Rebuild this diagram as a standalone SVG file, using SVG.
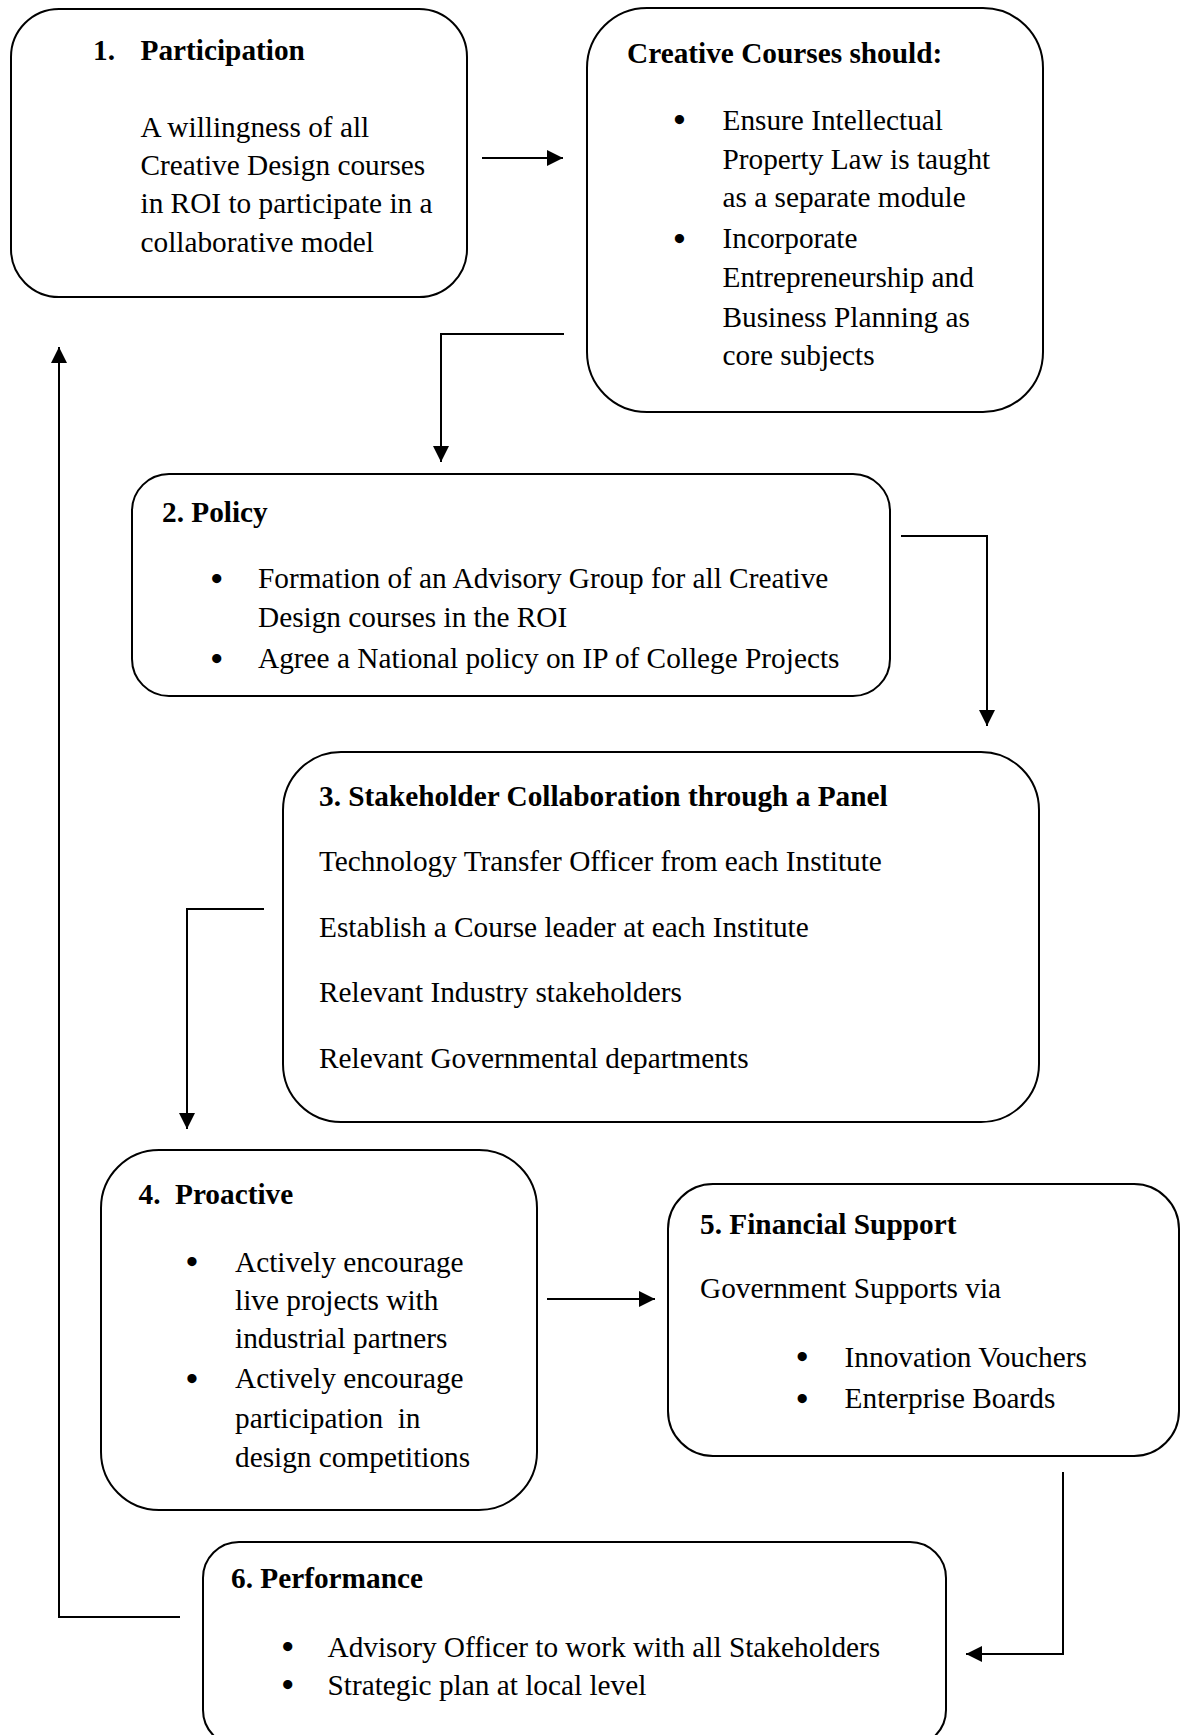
<svg xmlns="http://www.w3.org/2000/svg" width="1185" height="1735" viewBox="0 0 1185 1735">
  <style>
    .box { fill: #fff; stroke: #000; stroke-width: 2; }
    .t { font-family: "Liberation Serif", "Times New Roman", serif; font-size: 29.3px; fill: #000; }
    .b { font-weight: bold; }
    .dot { font-family: "Liberation Serif", "Times New Roman", serif; font-size: 34px; font-weight: bold; text-anchor: middle; fill: #000; }
    .conn { fill: none; stroke: #000; stroke-width: 2; }
  </style>
  <defs>
    <marker id="arrow" markerUnits="userSpaceOnUse" markerWidth="16" markerHeight="16" viewBox="0 0 16 16" refX="16" refY="8" orient="auto">
      <path d="M0,0 L16,8 L0,16 z" fill="#000"/>
    </marker>
  </defs>
  <rect width="1185" height="1735" fill="#fff"/>

  <!-- connectors -->
  <g id="connectors">
    <path class="conn" d="M482,158 H563" marker-end="url(#arrow)"/>
    <path class="conn" d="M564,334 H441 V462" marker-end="url(#arrow)"/>
    <path class="conn" d="M901,536 H987 V726" marker-end="url(#arrow)"/>
    <path class="conn" d="M264,909 H187 V1129" marker-end="url(#arrow)"/>
    <path class="conn" d="M547,1299 H655" marker-end="url(#arrow)"/>
    <path class="conn" d="M1063,1472 V1654 H966" marker-end="url(#arrow)"/>
    <path class="conn" d="M180,1617 H59 V347" marker-end="url(#arrow)"/>
  </g>

  <!-- 1. Participation -->
  <g id="participation">
    <rect class="box" x="11" y="9" width="456" height="288" rx="48"/>
    <text class="t b" y="60"><tspan x="93">1.</tspan><tspan x="140.5">Participation</tspan></text>
    <text class="t" x="140.5" y="136.7">A willingness of all</text>
    <text class="t" x="140.5" y="175">Creative Design courses</text>
    <text class="t" x="140.5" y="213.3">in ROI to participate in a</text>
    <text class="t" x="140.5" y="251.7">collaborative model</text>
  </g>

  <!-- Creative Courses should -->
  <g id="creative-courses">
    <rect class="box" x="587" y="8" width="456" height="404" rx="60"/>
    <text class="t b" x="627" y="63">Creative Courses should:</text>
    <text class="dot" x="679.5" y="131.2">•</text>
    <text class="dot" x="679.5" y="249.5">•</text>
    <text class="t" x="722.5" y="130">Ensure Intellectual</text>
    <text class="t" x="722.5" y="169.3">Property Law is taught</text>
    <text class="t" x="722.5" y="207.3">as a separate module</text>
    <text class="t" x="722.5" y="248.3">Incorporate</text>
    <text class="t" x="722.5" y="287.3">Entrepreneurship and</text>
    <text class="t" x="722.5" y="326.7">Business Planning as</text>
    <text class="t" x="722.5" y="365">core subjects</text>
  </g>

  <!-- 2. Policy -->
  <g id="policy">
    <rect class="box" x="132" y="474" width="758" height="222" rx="37"/>
    <text class="t b" x="162" y="521.7">2. Policy</text>
    <text class="dot" x="216.7" y="589.5">•</text>
    <text class="dot" x="216.7" y="669.5">•</text>
    <text class="t" x="258" y="588.3">Formation of an Advisory Group for all Creative</text>
    <text class="t" x="258" y="627.3">Design courses in the ROI</text>
    <text class="t" x="258" y="668.3">Agree a National policy on IP of College Projects</text>
  </g>

  <!-- 3. Stakeholder Collaboration -->
  <g id="stakeholder-collaboration">
    <rect class="box" x="283" y="752" width="756" height="370" rx="58"/>
    <text class="t b" x="319" y="806">3. Stakeholder Collaboration through a Panel</text>
    <text class="t" x="319" y="870.7">Technology Transfer Officer from each Institute</text>
    <text class="t" x="319" y="936.7">Establish a Course leader at each Institute</text>
    <text class="t" x="319" y="1001.7">Relevant Industry stakeholders</text>
    <text class="t" x="319" y="1068.3">Relevant Governmental departments</text>
  </g>

  <!-- 4. Proactive -->
  <g id="proactive">
    <rect class="box" x="101" y="1150" width="436" height="360" rx="58"/>
    <text class="t b" y="1204"><tspan x="138.5">4.</tspan><tspan x="175">Proactive</tspan></text>
    <text class="dot" x="192" y="1272.9">•</text>
    <text class="dot" x="192" y="1389.5">•</text>
    <text class="t" x="235" y="1271.7">Actively encourage</text>
    <text class="t" x="235" y="1310">live projects with</text>
    <text class="t" x="235" y="1348.3">industrial partners</text>
    <text class="t" x="235" y="1388.3">Actively encourage</text>
    <text class="t" x="235" y="1427.7" xml:space="preserve">participation  in</text>
    <text class="t" x="235" y="1466.7">design competitions</text>
  </g>

  <!-- 5. Financial Support -->
  <g id="financial-support">
    <rect class="box" x="668" y="1184" width="511" height="272" rx="45"/>
    <text class="t b" x="700" y="1234">5. Financial Support</text>
    <text class="t" x="700" y="1298.3">Government Supports via</text>
    <text class="dot" x="802.3" y="1367.9">•</text>
    <text class="dot" x="802.3" y="1409.5">•</text>
    <text class="t" x="844.6" y="1366.7">Innovation Vouchers</text>
    <text class="t" x="844.6" y="1408.3">Enterprise Boards</text>
  </g>

  <!-- 6. Performance -->
  <g id="performance">
    <rect class="box" x="203" y="1542" width="743" height="204" rx="36"/>
    <text class="t b" x="231" y="1588.3">6. Performance</text>
    <text class="dot" x="287.7" y="1657.9">•</text>
    <text class="dot" x="287.7" y="1696.2">•</text>
    <text class="t" x="327.5" y="1656.7">Advisory Officer to work with all Stakeholders</text>
    <text class="t" x="327.5" y="1695">Strategic plan at local level</text>
  </g>
</svg>
